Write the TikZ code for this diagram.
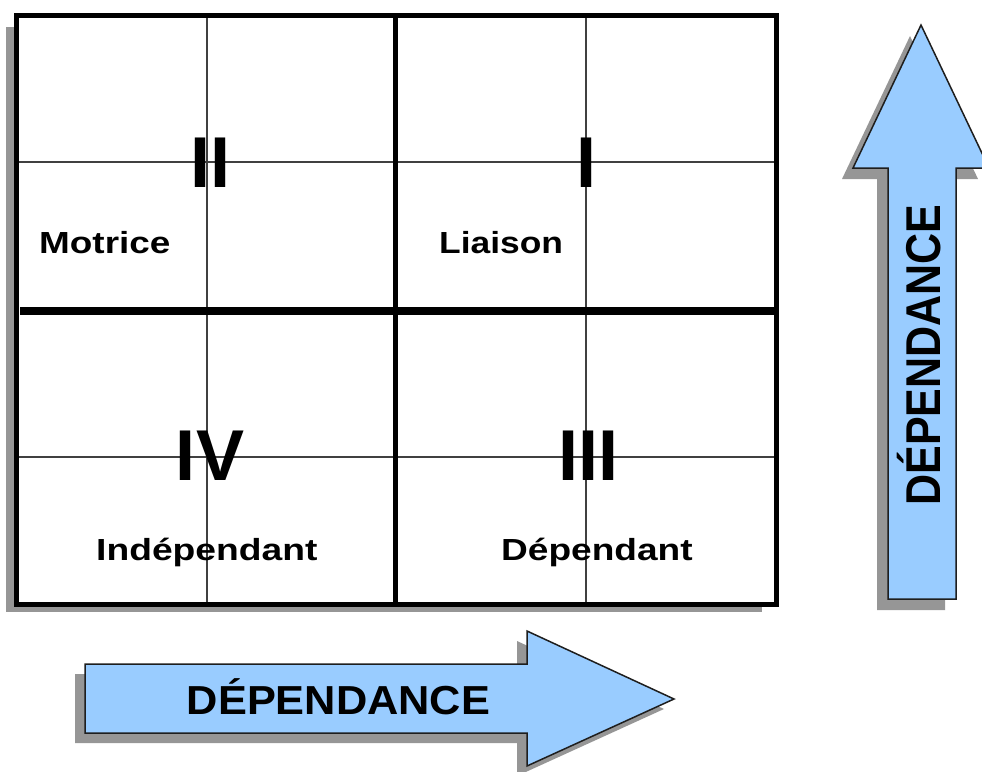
\documentclass[tikz,border=0pt]{standalone}
\usepackage{fontspec}
\setmainfont{Liberation Sans}
\definecolor{shadowgray}{HTML}{969696}
\definecolor{arrowblue}{HTML}{99CCFF}
\definecolor{arrowline}{HTML}{1E1E1E}
\definecolor{gridline}{HTML}{404040}
\begin{document}
\begin{tikzpicture}[x=1pt,y=-1pt,
  shadowfill/.style={fill=shadowgray,draw=none},
  arrowbody/.style={fill=arrowblue,draw=arrowline,line width=1.5pt,line join=miter},
  thinline/.style={draw=gridline,line width=1.3pt},
  quadlabel/.style={inner sep=0pt,anchor=base west,font=\fontsize{30.5}{30.5}\selectfont\bfseries},
  numeral/.style={inner sep=0pt,anchor=base,font=\fontsize{72}{72}\selectfont\bfseries},
  axislabel/.style={inner sep=0pt,anchor=base}]
\useasboundingbox (0,0) rectangle (982,771);
\clip (0,0) rectangle (982,771);

% matrix frame with its drop shadow
\fill[shadowfill] (6,27) rectangle (762,612);
\fill[white] (16.5,15) rectangle (776,604);

% thin subdivision lines
\draw[thinline] (207,15) -- (207,604);
\draw[thinline] (586,15) -- (586,604);
\draw[thinline] (16.5,162) -- (776,162);
\draw[thinline] (16.5,457) -- (776,457);

% quadrant separators
\draw[line width=5pt] (395,15) -- (395,604);
\draw[line width=8pt] (20,311) -- (775,311);
\draw[line width=5pt] (16.5,15) rectangle (776,604);

% quadrant numbers
\node[numeral] (q2) at (210.5,187) {II};
\node[numeral] (q1) at (586,187) {I};
\node[numeral] (q4) at (210,480) {IV};
\node[numeral] (q3) at (588,480) {III};

% quadrant names
\node[quadlabel] (motrice) at (39,253) {\scalebox{1.21}[1]{Motrice}};
\node[quadlabel] (liaison) at (439,253) {\scalebox{1.16}[1]{Liaison}};
\node[quadlabel] (indep) at (96,560) {\scalebox{1.22}[1]{Indépendant}};
\node[quadlabel] (dep) at (501,560) {\scalebox{1.215}[1]{Dépendant}};

% horizontal axis arrow
\fill[shadowfill,shift={(-10,10)}]
  (85,664) -- (527,664) -- (527,631) -- (674,699) -- (527,766) -- (527,733) -- (85,733) -- cycle;
\draw[arrowbody]
  (85,664) -- (527,664) -- (527,631) -- (674,699) -- (527,766) -- (527,733) -- (85,733) -- cycle;
\node[axislabel,font=\fontsize{40.5}{40.5}\selectfont\bfseries] (hdep) at (338.5,714)
  {\scalebox{1.07}[1]{DÉPENDANCE}};

% vertical axis arrow
\fill[shadowfill,shift={(-11,11)}]
  (888,599) -- (888,168) -- (853,168) -- (921,25) -- (989,168) -- (956,168) -- (956,599) -- cycle;
\draw[arrowbody]
  (888,599) -- (888,168) -- (853,168) -- (921,25) -- (989,168) -- (956,168) -- (956,599) -- cycle;
\node[axislabel,rotate=90,font=\fontsize{43}{43}\selectfont\bfseries] (vdep) at (940,355)
  {\scalebox{1}[1.137]{DÉPENDANCE}};
\end{tikzpicture}
\end{document}
